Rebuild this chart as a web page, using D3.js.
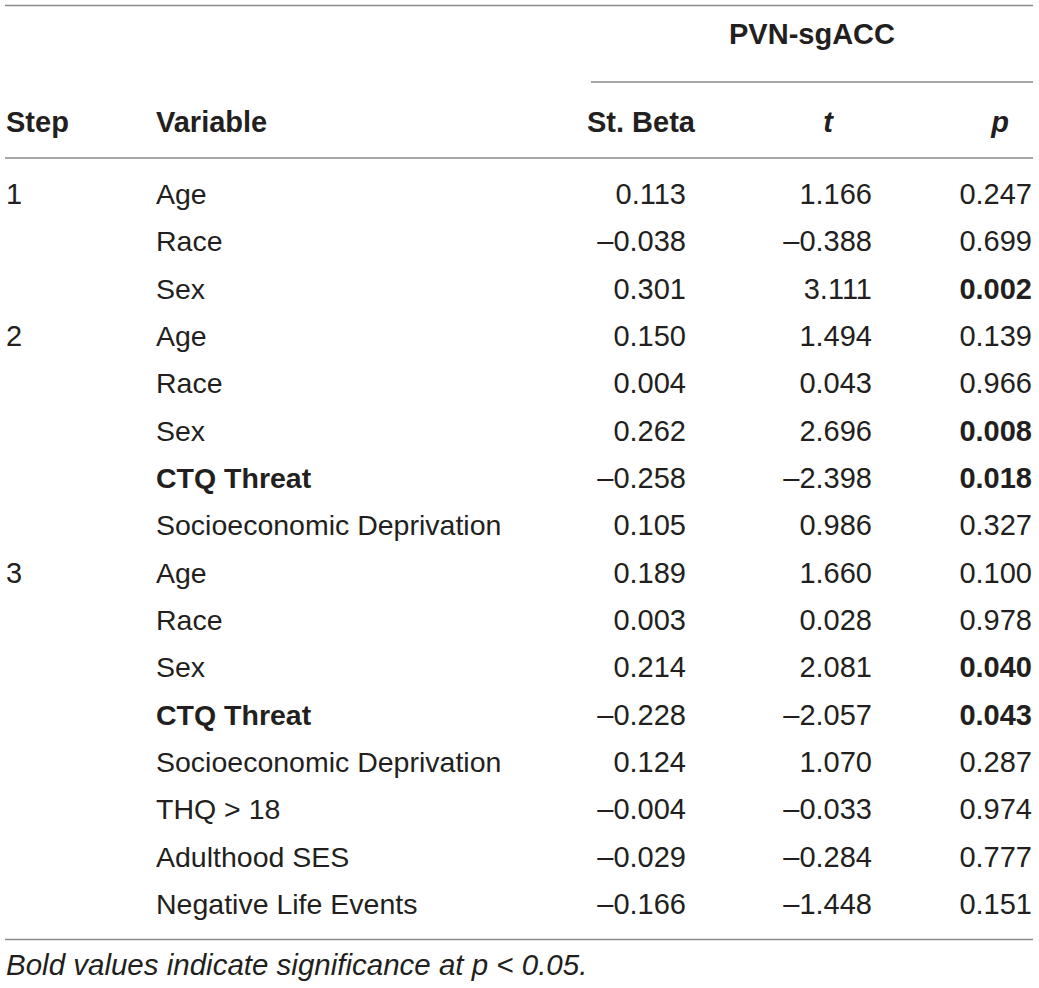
<!DOCTYPE html>
<html>
<head>
<meta charset="utf-8">
<script src="https://cdn.jsdelivr.net/npm/d3@7"></script>
<style>
  body { margin: 0; background: #fff; }
  text { font-family: "Liberation Sans", Arial, sans-serif; fill: #231f20; }
</style>
</head>
<body>
<div id="chart"></div>
<script>
const stepOf = [1, 1, 1, 2, 2, 2, 2, 2, 3, 3, 3, 3, 3, 3, 3, 3];
const variables = ["Age", "Race", "Sex", "Age", "Race", "Sex", "CTQ Threat",
  "Socioeconomic Deprivation", "Age", "Race", "Sex", "CTQ Threat",
  "Socioeconomic Deprivation", "THQ > 18", "Adulthood SES", "Negative Life Events"];
const boldVariables = ["CTQ Threat"];
const betaVals = [0.113, -0.038, 0.301, 0.150, 0.004, 0.262, -0.258, 0.105,
  0.189, 0.003, 0.214, -0.228, 0.124, -0.004, -0.029, -0.166];
const tVals = [1.166, -0.388, 3.111, 1.494, 0.043, 2.696, -2.398, 0.986,
  1.660, 0.028, 2.081, -2.057, 1.070, -0.033, -0.284, -1.448];
const pVals = [0.247, 0.699, 0.002, 0.139, 0.966, 0.008, 0.018, 0.327,
  0.100, 0.978, 0.040, 0.043, 0.287, 0.974, 0.777, 0.151];
const groupLabel = "PVN-sgACC";
const footnote = "Bold values indicate significance at p < 0.05.";

const width = 1039, height = 988;
const fsLabel = 28.5, fsNum = 29, fsHead = 29, fsNote = 29.5;
const lineColor = "#8a8a8a";

const svg = d3.select("#chart").append("svg")
  .attr("width", width)
  .attr("height", height);

// row baselines
const y = d3.scalePoint()
  .domain(d3.range(variables.length))
  .range([204, 914]);

const fmt = v => d3.format(".3f")(v).replace("\u2212", "\u2013").replace("-", "\u2013");

// rules
function rule(x1, x2, yy) {
  svg.append("line")
    .attr("x1", x1).attr("x2", x2)
    .attr("y1", yy).attr("y2", yy)
    .attr("stroke", lineColor)
    .attr("stroke-width", 1.5);
}
rule(5, 1033, 5.5);
rule(591, 1033, 82);
rule(5, 1033, 158);
rule(5, 1033, 939.5);

// header
svg.append("text")
  .attr("x", 812).attr("y", 44)
  .attr("text-anchor", "middle")
  .attr("font-size", fsHead).attr("font-weight", "bold")
  .text(groupLabel);

const headers = [
  { label: "Step", x: 6, anchor: "start", italic: false },
  { label: "Variable", x: 156, anchor: "start", italic: false },
  { label: "St. Beta", x: 641, anchor: "middle", italic: false },
  { label: "t", x: 828, anchor: "middle", italic: true },
  { label: "p", x: 1000, anchor: "middle", italic: true }
];
svg.selectAll("text.head")
  .data(headers)
  .join("text")
  .attr("class", "head")
  .attr("x", d => d.x).attr("y", 132)
  .attr("text-anchor", d => d.anchor)
  .attr("font-size", fsHead).attr("font-weight", "bold")
  .attr("font-style", d => d.italic ? "italic" : "normal")
  .text(d => d.label);

// rows
const rows = variables.map((v, i) => ({
  i,
  step: (i === 0 || stepOf[i] !== stepOf[i - 1]) ? String(stepOf[i]) : "",
  variable: v,
  beta: betaVals[i],
  t: tVals[i],
  p: pVals[i]
}));

const g = svg.selectAll("g.row")
  .data(rows)
  .join("g")
  .attr("class", "row")
  .attr("transform", d => `translate(0,${y(d.i)})`);

g.append("text")
  .attr("x", 6)
  .attr("font-size", fsNum)
  .text(d => d.step);

g.append("text")
  .attr("x", 156)
  .attr("font-size", fsLabel)
  .attr("font-weight", d => boldVariables.includes(d.variable) ? "bold" : "normal")
  .text(d => d.variable);

g.append("text")
  .attr("x", 686)
  .attr("text-anchor", "end")
  .attr("font-size", fsNum)
  .text(d => fmt(d.beta));

g.append("text")
  .attr("x", 872)
  .attr("text-anchor", "end")
  .attr("font-size", fsNum)
  .text(d => fmt(d.t));

g.append("text")
  .attr("x", 1032)
  .attr("text-anchor", "end")
  .attr("font-size", fsNum)
  .attr("font-weight", d => d.p < 0.05 ? "bold" : "normal")
  .text(d => fmt(d.p));

// footnote
svg.append("text")
  .attr("x", 6).attr("y", 975)
  .attr("font-size", fsNote)
  .attr("font-style", "italic")
  .text(footnote);
</script>
</body>
</html>
